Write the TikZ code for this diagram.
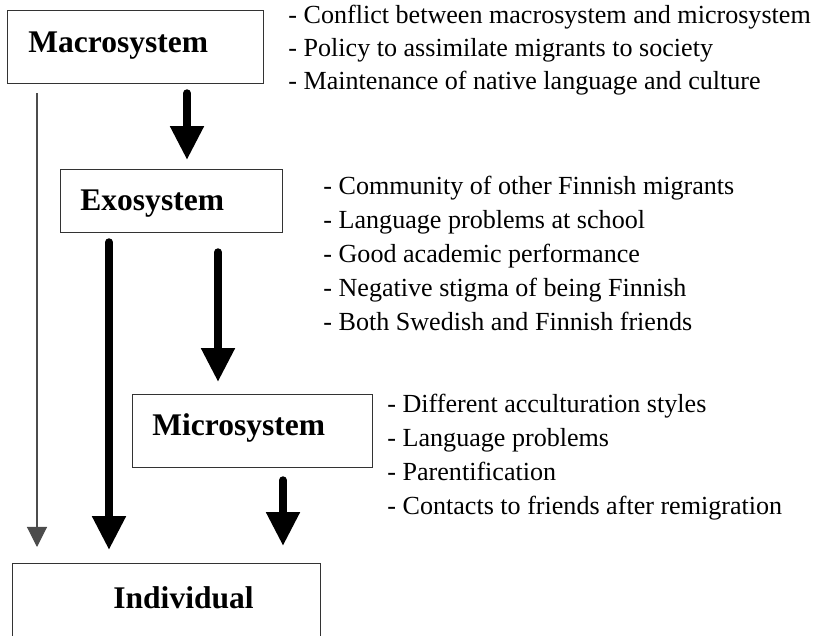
\documentclass[tikz,border=0pt]{standalone}
\usepackage{fontspec}
\setmainfont{Liberation Serif}
\usetikzlibrary{arrows.meta,calc}

\newcommand{\pxlen}{0.46pt}

\tikzset{
  sysbox/.style={draw=black!80, line width=0.6pt, anchor=north west, inner sep=0pt},
  systitle/.style={font=\bfseries\fontsize{14.5}{17}\selectfont, anchor=base west, inner sep=0pt},
  factor/.style={font=\fontsize{12}{14}\selectfont, anchor=base west, inner sep=0pt},
  thinarrow/.style={draw=black!70, line width=0.5pt, -{Triangle[width=9.2pt,length=9.2pt]}},
  fatarrow/.style={line width=3.7pt, line cap=round, -{Triangle[width=14.7pt,length=15.6pt]}}
}

\begin{document}
\begin{tikzpicture}[x=\pxlen, y=-\pxlen]
  \useasboundingbox (0,0) rectangle (820,636);
  \clip (0,0) rectangle (820,636);

  % System boxes
  \node[sysbox, minimum width=256*\pxlen, minimum height=73*\pxlen] (macro) at (7,10) {};
  \node[sysbox, minimum width=222*\pxlen, minimum height=63*\pxlen] (exo) at (60,169) {};
  \node[sysbox, minimum width=240*\pxlen, minimum height=73*\pxlen] (micro) at (132,394) {};
  \node[sysbox, minimum width=308*\pxlen, minimum height=120*\pxlen] (indiv) at (12,563) {};

  % Box titles
  \node[systitle] (macro_title) at ($(macro.north west)+(21,43)$) {Macrosystem};
  \node[systitle] (exo_title) at ($(exo.north west)+(20,42)$) {Exosystem};
  \node[systitle] (micro_title) at ($(micro.north west)+(20,42)$) {Microsystem};
  \node[systitle] (indiv_title) at ($(indiv.north west)+(101,45)$) {Individual};

  % Factors beside each box
  \foreach \txt [count=\i] in {Conflict between macrosystem and microsystem,
      Policy to assimilate migrants to society,
      Maintenance of native language and culture}
    \node[factor] (macro_\i) at (288,{24+33*(\i-1)}) {- \txt};
  \foreach \txt [count=\i] in {Community of other Finnish migrants,
      Language problems at school, Good academic performance,
      Negative stigma of being Finnish, Both Swedish and Finnish friends}
    \node[factor] (exo_\i) at (323,{195+34*(\i-1)}) {- \txt};
  \foreach \txt [count=\i] in {Different acculturation styles, Language problems,
      Parentification, Contacts to friends after remigration}
    \node[factor] (micro_\i) at (387,{413+34*(\i-1)}) {- \txt};

  % Influences
  \draw[thinarrow] ($(macro.south west)+(30,9)$) -- ($(indiv.north west)+(25,-16)$);
  \draw[fatarrow] ($(macro.south west)+(180,9)$) -- ($(exo.north west)+(127,-9)$);
  \draw[fatarrow] ($(exo.south west)+(49,9)$) -- ($(indiv.north west)+(97,-13)$);
  \draw[fatarrow] ($(exo.south west)+(158,19)$) -- ($(micro.north west)+(86,-12)$);
  \draw[fatarrow] ($(micro.south west)+(151,12)$) -- ($(indiv.north west)+(271,-17)$);
\end{tikzpicture}
\end{document}
